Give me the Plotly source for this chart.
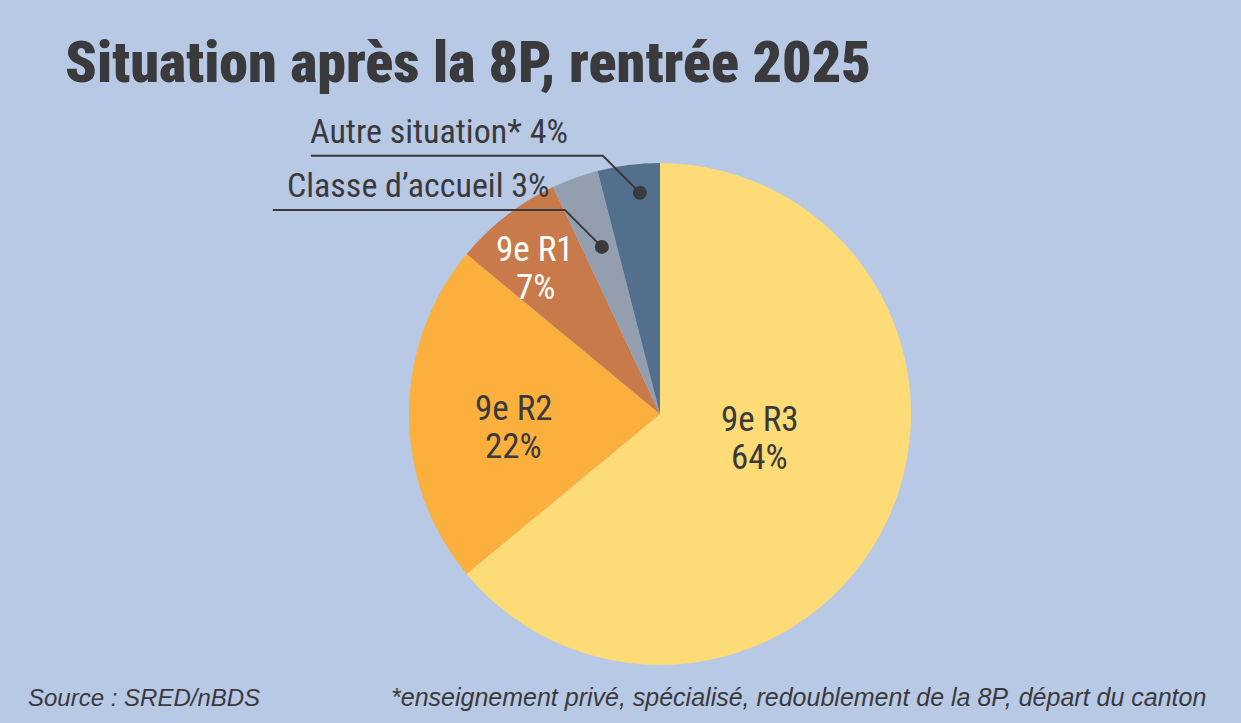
import math
import plotly.graph_objects as go

# ---- data ----
categories = ["9e R3", "9e R2", "9e R1", "Classe d’accueil", "Autre situation*"]
values = [64, 22, 7, 3, 4]
colors = ["#FDDB76", "#FBAF3D", "#C97A4A", "#939EAE", "#52708E"]
inside_text_colors = ["#3A3A3C", "#3A3A3C", "#FFFFFF", None, None]
outside = [False, False, False, True, True]

title = "Situation après la 8P, rentrée 2025"
source = "Source : SRED/nBDS"
footnote = "*enseignement privé, spécialisé, redoublement de la 8P, départ du canton"

# ---- layout geometry (pixels) ----
W, H = 1241, 723
CX, CY, R = 660, 414, 251
BG = "#B8C9E6"
DARK = "#3A3A3C"
FONT = "Roboto Condensed, Liberation Sans, sans-serif"
FOOT_FONT = "Liberation Sans, Arial, sans-serif"
LINE_GAP = 38  # spacing between the two lines of an inside label

# per-slice label placement tweaks (angle shift in deg, radius fraction)
label_shift = [-11.2, -5.1, -2.8, 0.6, 2.0]
label_rfrac = [0.41, 0.584, 0.765, 0.705, 0.885]
# horizontal offset of the outside label text from the leader line start
text_dx = [0, 0, 0, 12, -3]


def px(x):
    return x / W


def py(y):
    return 1 - y / H


fig = go.Figure()
fig.add_trace(go.Pie(
    labels=categories, values=values, sort=False, direction="clockwise",
    rotation=0, marker=dict(colors=colors, line=dict(width=0)),
    textinfo="none", hoverinfo="label+percent", showlegend=False,
    domain=dict(x=[px(CX - R), px(CX + R)], y=[py(CY + R), py(CY - R)]),
))

total = sum(values)
annotations = []
shapes = []
cum = 0
for i, (cat, v) in enumerate(zip(categories, values)):
    mid = (cum + v / 2) / total * 360
    cum += v
    ang = math.radians(mid + label_shift[i])
    rr = R * label_rfrac[i]
    x = CX + rr * math.sin(ang)
    y = CY - rr * math.cos(ang)
    pct = f"{round(v / total * 100)}%"
    if not outside[i]:
        for txt, dy in ((cat, -LINE_GAP / 2), (pct, LINE_GAP / 2)):
            annotations.append(dict(
                x=px(x), y=py(y + dy), xref="paper", yref="paper",
                text=txt, showarrow=False,
                font=dict(family=FONT, size=35, color=inside_text_colors[i]),
                xanchor="center", yanchor="middle", align="center"))
    else:
        # leader: dot in slice, 45° diagonal, then horizontal line with label above
        ex, ey = x - 37, y - 37
        lx = ex - 292
        shapes.append(dict(type="path", xref="paper", yref="paper",
                           path=f"M {px(lx)} {py(ey)} L {px(ex)} {py(ey)} L {px(x)} {py(y)}",
                           line=dict(color=DARK, width=2)))
        shapes.append(dict(type="circle", xref="paper", yref="paper",
                           x0=px(x - 7), x1=px(x + 7), y0=py(y + 7), y1=py(y - 7),
                           fillcolor=DARK, line=dict(width=0)))
        annotations.append(dict(
            x=px(lx + text_dx[i]), y=py(ey - 3), xref="paper", yref="paper",
            text=f"{cat} {pct}", showarrow=False,
            font=dict(family=FONT, size=34, color=DARK),
            xanchor="left", yanchor="bottom"))

annotations.append(dict(
    x=px(63), y=py(62), xref="paper", yref="paper", text=title,
    showarrow=False, xanchor="left", yanchor="middle",
    font=dict(family=FONT, size=58, color=DARK, weight=900)))
annotations.append(dict(
    x=px(26), y=py(697), xref="paper", yref="paper", text=f"<i>{source}</i>",
    showarrow=False, xanchor="left", yanchor="middle",
    font=dict(family=FOOT_FONT, size=24, color=DARK)))
annotations.append(dict(
    x=px(1208), y=py(697), xref="paper", yref="paper", text=f"<i>{footnote}</i>",
    showarrow=False, xanchor="right", yanchor="middle",
    font=dict(family=FOOT_FONT, size=25, color=DARK)))

fig.update_layout(
    width=W, height=H, margin=dict(l=0, r=0, t=0, b=0),
    paper_bgcolor=BG, plot_bgcolor=BG,
    annotations=annotations, shapes=shapes,
)

fig.write_html("out.html")
